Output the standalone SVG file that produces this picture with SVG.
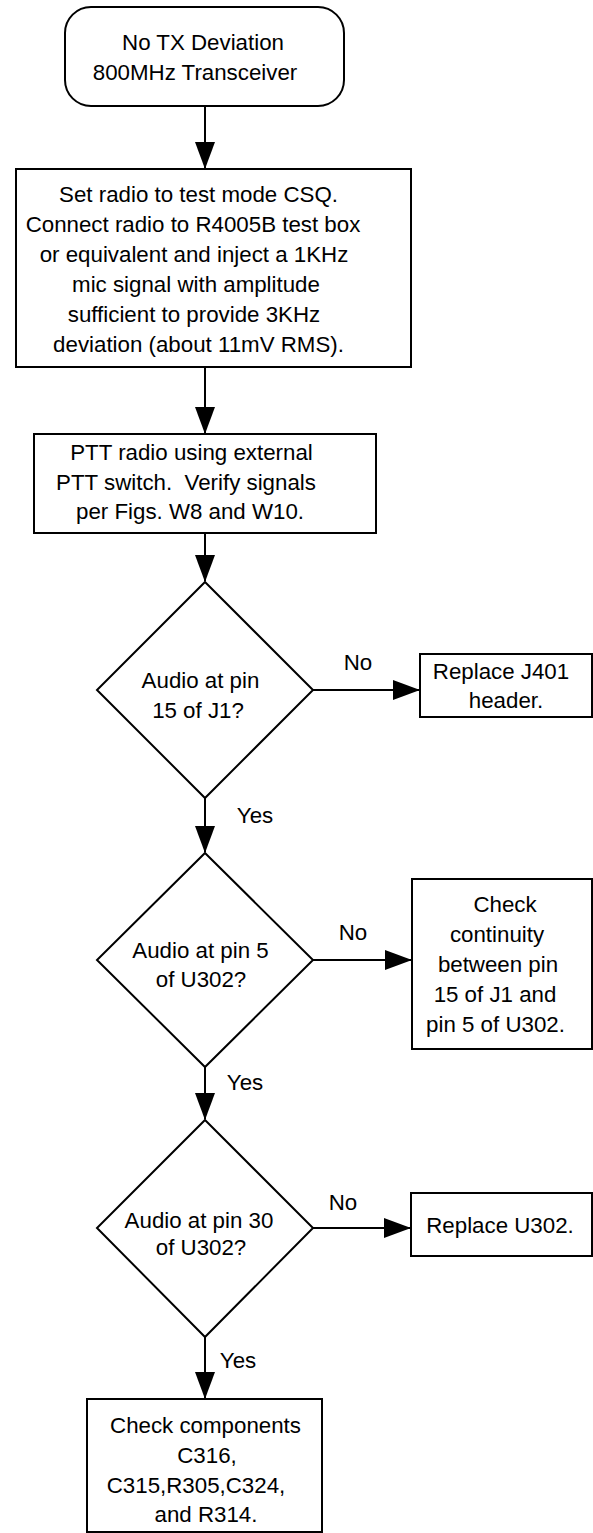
<svg xmlns="http://www.w3.org/2000/svg" width="593" height="1533" viewBox="0 0 593 1533">
<style>
.s{fill:#fff;stroke:#000;stroke-width:2}
.c{fill:none;stroke:#000;stroke-width:2}
text{font-family:"Liberation Sans",Arial,sans-serif;font-size:22.3px;fill:#000;text-anchor:middle}
</style>
<defs>
<marker id="ah" markerUnits="userSpaceOnUse" markerWidth="27" markerHeight="20" refX="26" refY="10" orient="auto">
<path d="M0,0 L27,10 L0,20 Z" fill="#000"/>
</marker>
</defs>
<rect width="593" height="1533" fill="#fff"/>
<g id="connectors">
<line class="c" x1="205" y1="106" x2="205" y2="168" marker-end="url(#ah)"/>
<line class="c" x1="205" y1="367" x2="205" y2="433" marker-end="url(#ah)"/>
<line class="c" x1="205" y1="533" x2="205" y2="581" marker-end="url(#ah)"/>
<line class="c" x1="313" y1="690" x2="419" y2="690" marker-end="url(#ah)"/>
<line class="c" x1="205" y1="798" x2="205" y2="852" marker-end="url(#ah)"/>
<line class="c" x1="313" y1="960" x2="411" y2="960" marker-end="url(#ah)"/>
<line class="c" x1="205" y1="1067" x2="205" y2="1119" marker-end="url(#ah)"/>
<line class="c" x1="313" y1="1228" x2="410" y2="1228" marker-end="url(#ah)"/>
<line class="c" x1="205" y1="1337" x2="205" y2="1398" marker-end="url(#ah)"/>
<text x="358" y="670">No</text>
<text x="255" y="823">Yes</text>
<text x="353" y="940">No</text>
<text x="245" y="1090">Yes</text>
<text x="343" y="1210">No</text>
<text x="238" y="1368">Yes</text>
</g>
<g id="start">
<rect class="s" x="65" y="7" width="279" height="99" rx="26"/>
<text x="203" y="50">No TX Deviation</text>
<text x="195" y="80">800MHz Transceiver</text>
</g>
<g id="setup">
<rect class="s" x="16" y="169" width="395" height="198"/>
<text x="198.5" y="202">Set radio to test mode CSQ.</text>
<text x="193" y="232">Connect radio to R4005B test box</text>
<text x="194" y="262">or equivalent and inject a 1KHz</text>
<text x="196" y="292">mic signal with amplitude</text>
<text x="194" y="322">sufficient to provide 3KHz</text>
<text x="198.5" y="352">deviation (about 11mV RMS).</text>
</g>
<g id="ptt">
<rect class="s" x="34" y="434" width="342" height="99"/>
<text x="191.5" y="460">PTT radio using external</text>
<text x="186" y="490" xml:space="preserve">PTT switch.  Verify signals</text>
<text x="190" y="519">per Figs. W8 and W10.</text>
</g>
<g id="d1">
<polygon class="s" points="205,582 313,690 205,798 97,690"/>
<text x="200.5" y="688">Audio at pin</text>
<text x="198" y="718">15 of J1?</text>
</g>
<g id="r1">
<rect class="s" x="420" y="654" width="172" height="63"/>
<text x="501" y="679">Replace J401</text>
<text x="506" y="708">header.</text>
</g>
<g id="d2">
<polygon class="s" points="205,853 313,960 205,1067 97,960"/>
<text x="200.5" y="958">Audio at pin 5</text>
<text x="201" y="987">of U302?</text>
</g>
<g id="r2">
<rect class="s" x="412" y="879" width="180" height="170"/>
<text x="505" y="912">Check</text>
<text x="497" y="942">continuity</text>
<text x="498" y="972">between pin</text>
<text x="495" y="1002">15 of J1 and</text>
<text x="495.5" y="1032">pin 5 of U302.</text>
</g>
<g id="d3">
<polygon class="s" points="205,1120 313,1228 205,1337 97,1228"/>
<text x="199" y="1228">Audio at pin 30</text>
<text x="201" y="1255">of U302?</text>
</g>
<g id="r3">
<rect class="s" x="411" y="1193" width="181" height="63"/>
<text x="500" y="1233">Replace U302.</text>
</g>
<g id="end">
<rect class="s" x="87" y="1399" width="235" height="133"/>
<text x="205.5" y="1433">Check components</text>
<text x="207" y="1463">C316,</text>
<text x="196" y="1493">C315,R305,C324,</text>
<text x="206" y="1522">and R314.</text>
</g>
</svg>
